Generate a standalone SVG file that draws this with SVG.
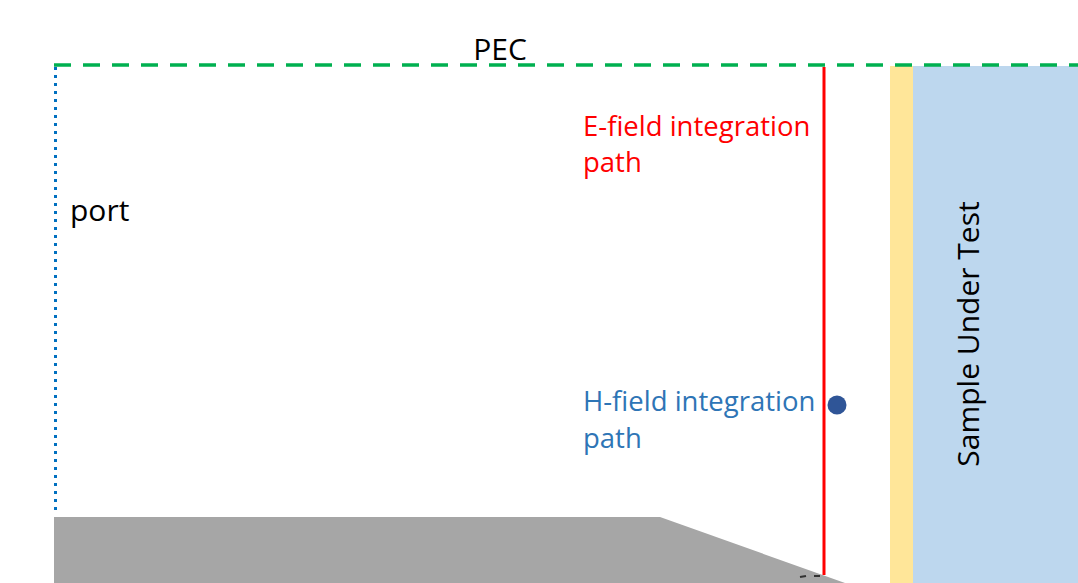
<svg xmlns="http://www.w3.org/2000/svg" width="1078" height="583" viewBox="0 0 1078 583">
<style>
.t{font-family:"Open Sans","Liberation Sans",sans-serif;font-size:30px}
.c{font-size:27.5px}
.e{fill:#FF0000}
.h{fill:#2E75B6}
</style>
<rect width="1078" height="583" fill="#ffffff"/>
<g id="ground"><polygon points="54,517 660,517 845,583 54,583" fill="#A6A6A6"/></g>
<g id="sample">
<rect x="890" y="66" width="23" height="517" fill="#FFE699"/>
<rect x="913" y="66" width="165" height="517" fill="#BDD7EE"/>
<text class="t" transform="translate(979,334) rotate(-90)" text-anchor="middle" fill="#000">Sample Under Test</text>
</g>
<g id="connectors">
<line x1="54" y1="65" x2="1078" y2="65" stroke="#00B050" stroke-width="3.5" stroke-dasharray="17,12"/>
<line x1="55.5" y1="67" x2="55.5" y2="512" stroke="#0070C0" stroke-width="3" stroke-dasharray="3,5"/>
<line x1="824" y1="67" x2="824" y2="575" stroke="#FF0000" stroke-width="3"/>
<line x1="800" y1="577" x2="806" y2="576" stroke="#333" stroke-width="2"/>
<line x1="814" y1="576" x2="820" y2="576" stroke="#333" stroke-width="2"/>
</g>
<g id="pec"><text class="t" x="500" y="60" text-anchor="middle" fill="#000">PEC</text></g>
<g id="port"><text class="t" x="70" y="221" fill="#000">port</text></g>
<g id="efield"><text class="t c e" x="583" y="136">E-field integration</text><text class="t c e" x="583" y="172">path</text></g>
<g id="hfield"><text class="t c h" x="583" y="411">H-field integration</text><text class="t c h" x="583" y="448">path</text><circle cx="837" cy="405" r="9.5" fill="#2F5597"/></g>
</svg>
